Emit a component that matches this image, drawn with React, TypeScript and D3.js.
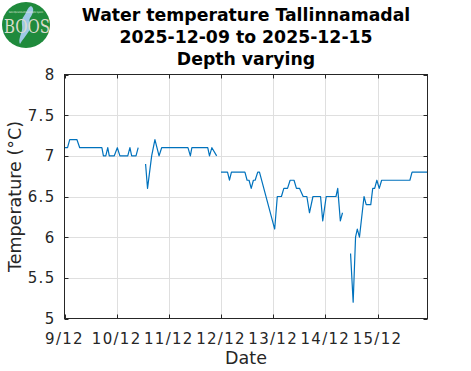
import React, { useRef, useEffect } from 'react';
import * as d3 from 'd3';

// hours since 2025-12-09 00:00 and the temperature read at that moment (null = gap)
const hours = [
  0, 1.4, 2.4, 5.7, 7.0, 17.2, 17.9, 19.0, 19.9, 20.6, 22.9, 24.3, 25.5, 29.1, 30.1, 30.9, 32.9, 33.9,
  35.5,
  37.3, 38.2, 40.1, 41.6, 43.5, 44.7, 56.8, 57.9, 58.6, 65.9, 66.7, 67.8, 70.0,
  71.0,
  72.0, 75.0, 75.9, 76.8, 83.0, 84.0, 84.9, 85.9, 86.9, 87.7, 88.9, 89.7, 96.7, 97.9, 99.8, 100.9,
  102.6, 103.8, 105.6, 106.7, 108.1, 109.8, 111.5, 112.7, 114.3, 117.8, 118.8, 120.4, 124.9, 125.7,
  126.9, 127.9,
  130.0,
  131.6, 132.8, 133.9, 134.7, 135.7, 137.8, 138.8, 140.9, 141.8, 142.7, 143.7, 144.8, 145.9, 158.9,
  159.9, 167.0,
];
const temps: (number | null)[] = [
  7.1, 7.1, 7.2, 7.2, 7.1, 7.1, 7.0, 7.0, 7.1, 7.0, 7.0, 7.1, 7.0, 7.0, 7.1, 7.0, 7.0, 7.1,
  null,
  6.9, 6.6, 7.0, 7.2, 7.0, 7.1, 7.1, 7.0, 7.1, 7.1, 7.0, 7.1, 7.0,
  null,
  6.8, 6.8, 6.7, 6.8, 6.8, 6.7, 6.7, 6.6, 6.7, 6.7, 6.8, 6.8, 6.1, 6.5, 6.5, 6.6,
  6.6, 6.7, 6.7, 6.6, 6.6, 6.5, 6.5, 6.3, 6.5, 6.5, 6.2, 6.5, 6.5, 6.6,
  6.2, 6.3,
  null,
  5.8, 5.2, 6.0, 6.1, 6.0, 6.5, 6.4, 6.4, 6.6, 6.6, 6.7, 6.6, 6.7, 6.7,
  6.8, 6.8,
];
const yTicks = [5, 5.5, 6, 6.5, 7, 7.5, 8];
const dayTicks = ['2025-12-09', '2025-12-10', '2025-12-11', '2025-12-12', '2025-12-13', '2025-12-14', '2025-12-15'];
const titleLines = ['Water temperature Tallinnamadal', '2025-12-09 to 2025-12-15', 'Depth varying'];

const FONT = 'DejaVu Sans, sans-serif';

const App = () => {
  const svgRef = useRef<SVGSVGElement>(null);

  useEffect(() => {
    const width = 471;
    const height = 371;
    const margin = { top: 74.5, right: 43.5, bottom: 52.5, left: 64.5 };
    const start = new Date(2025, 11, 9, 0, 0);
    const toDate = (h: number) => new Date(start.getTime() + h * 3600e3);

    const svg = d3.select(svgRef.current)
      .attr('width', width)
      .attr('height', height);
    svg.selectAll('*').remove();

    svg.append('rect').attr('width', width).attr('height', height).attr('fill', '#fff');

    const x = d3.scaleTime()
      .domain([start, toDate(167)])
      .range([margin.left, width - margin.right]);
    const y = d3.scaleLinear()
      .domain([5, 8])
      .range([height - margin.bottom, margin.top]);

    const x0 = margin.left, x1 = width - margin.right;
    const y0 = height - margin.bottom, y1 = margin.top;
    const days = dayTicks.map(s => d3.timeParse('%Y-%m-%d')(s) as Date);

    // grid
    const grid = svg.append('g').attr('stroke', '#dfdfdf').attr('stroke-width', 1);
    grid.selectAll('.gx').data(days.slice(1)).enter().append('line')
      .attr('x1', d => Math.round(x(d)) + 0.5).attr('x2', d => Math.round(x(d)) + 0.5)
      .attr('y1', y1).attr('y2', y0);
    grid.selectAll('.gy').data(yTicks.slice(1, -1)).enter().append('line')
      .attr('y1', d => Math.round(y(d)) + 0.5).attr('y2', d => Math.round(y(d)) + 0.5)
      .attr('x1', x0).attr('x2', x1);

    // data line
    const pts = hours.map((h, i) => ({ t: toDate(h), v: temps[i] }));
    const line = d3.line<{ t: Date; v: number | null }>()
      .defined(d => d.v !== null)
      .x(d => x(d.t))
      .y(d => y(d.v as number));
    svg.append('path')
      .datum(pts)
      .attr('d', line)
      .attr('fill', 'none')
      .attr('stroke', '#0072BD')
      .attr('stroke-width', 1.2)
      .attr('stroke-linejoin', 'round');

    // box and ticks
    const axisColor = '#262626';
    svg.append('rect')
      .attr('x', x0).attr('y', y1).attr('width', x1 - x0).attr('height', y0 - y1)
      .attr('fill', 'none').attr('stroke', axisColor).attr('stroke-width', 1);
    const tk = svg.append('g').attr('stroke', axisColor).attr('stroke-width', 1);
    const tl = 4;
    days.forEach(d => {
      const px = Math.round(x(d)) + 0.5;
      tk.append('line').attr('x1', px).attr('x2', px).attr('y1', y0).attr('y2', y0 - tl);
      tk.append('line').attr('x1', px).attr('x2', px).attr('y1', y1).attr('y2', y1 + tl);
    });
    yTicks.forEach(v => {
      const py = Math.round(y(v)) + 0.5;
      tk.append('line').attr('x1', x0).attr('x2', x0 + tl).attr('y1', py).attr('y2', py);
      tk.append('line').attr('x1', x1).attr('x2', x1 - tl).attr('y1', py).attr('y2', py);
    });

    // tick labels
    svg.append('g').selectAll('text').data(days).enter().append('text')
      .attr('x', d => x(d)).attr('y', y0 + 25)
      .attr('text-anchor', 'middle')
      .attr('font-family', FONT).attr('font-size', 15).attr('letter-spacing', 1.3)
      .attr('fill', axisColor)
      .text(d => `${d.getDate()}/${d.getMonth() + 1}`);
    svg.append('g').selectAll('text').data(yTicks).enter().append('text')
      .attr('x', x0 - 9).attr('y', d => y(d)).attr('dy', '0.36em')
      .attr('text-anchor', 'end')
      .attr('font-family', FONT).attr('font-size', 15).attr('letter-spacing', 1.3)
      .attr('fill', axisColor)
      .text(d => String(d));

    // axis labels
    svg.append('text')
      .attr('x', (x0 + x1) / 2).attr('y', 364)
      .attr('text-anchor', 'middle')
      .attr('font-family', FONT).attr('font-size', 17.5).attr('fill', axisColor)
      .text('Date');
    svg.append('text')
      .attr('transform', `translate(21,${(y0 + y1) / 2}) rotate(-90)`)
      .attr('text-anchor', 'middle')
      .attr('font-family', FONT).attr('font-size', 17.5).attr('fill', axisColor)
      .text('Temperature (°C)');

    // title
    svg.append('g').selectAll('text').data(titleLines).enter().append('text')
      .attr('x', (x0 + x1) / 2).attr('y', (d, i) => 21 + i * 21.8)
      .attr('text-anchor', 'middle')
      .attr('font-family', FONT).attr('font-size', 17.3).attr('font-weight', 'bold')
      .attr('fill', '#000')
      .text(d => d);

    // BOOS logo (rough)
    const logo = svg.append('g');
    logo.append('ellipse').attr('cx', 26).attr('cy', 25).attr('rx', 24).attr('ry', 23).attr('fill', '#1f8a3c');
    logo.append('path')
      .attr('d', 'M31,6 C35,8 33,14 30,18 C28,22 32,26 29,31 C26,36 22,40 20,44 C18,40 21,35 22,30 C23,25 20,21 24,16 C27,12 27,8 31,6 Z')
      .attr('fill', '#9ec9e6');
    logo.append('text')
      .attr('x', 4).attr('y', 33)
      .attr('textLength', 46).attr('lengthAdjust', 'spacingAndGlyphs')
      .attr('font-family', 'DejaVu Serif, serif').attr('font-size', 18)
      .attr('fill', '#d9dccd')
      .text('BOOS');
    logo.append('text')
      .attr('x', 9).attr('y', 13)
      .attr('textLength', 34).attr('lengthAdjust', 'spacingAndGlyphs')
      .attr('font-family', FONT).attr('font-size', 2.6).attr('fill', '#e8f0e0')
      .text('Baltic Operational Oceanographic System');
  }, []);

  return <svg ref={svgRef} style={{ position: 'absolute', left: 0, top: 0 }}></svg>;
};

export default App;
